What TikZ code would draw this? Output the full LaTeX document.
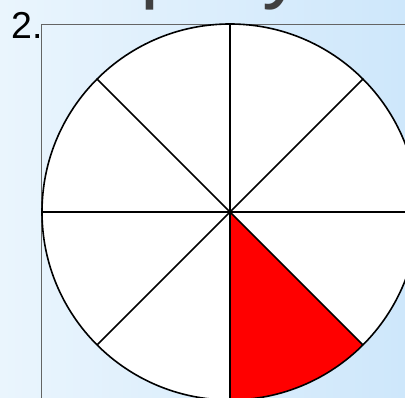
\documentclass[tikz,border=0pt]{standalone}
\usepackage{fontspec}
\setmainfont{Liberation Sans}
\definecolor{bgleft}{RGB}{234,245,253}
\definecolor{bgright}{RGB}{206,231,251}
\definecolor{titlegray}{RGB}{64,64,64}
\definecolor{framegray}{RGB}{100,100,100}
\tikzset{
  spoke/.style={black, line width=1.6pt},
  rim/.style={black, line width=1.6pt},
  frameline/.style={framegray, line width=1pt},
  titletext/.style={text=titlegray, inner sep=0pt, anchor=base west, font=\fontsize{85}{90}\selectfont},
  numtext/.style={text=black, inner sep=0pt, anchor=base west, font=\fontsize{37.5}{40}\selectfont}
}
\begin{document}
\begin{tikzpicture}[x=1pt,y=1pt]
\useasboundingbox (0,0) rectangle (405,398);
\shade[left color=bgleft, right color=bgright] (0,0) rectangle (405,398);
\clip (0,0) rectangle (405,398);
% partial title
\node[titletext] (tp) at (140,405) {p};
\node[titletext] (ty) at (262,405) {y};
% number
\node[numtext] (num) at (11,359) {2.};
% frame
\coordinate (fa) at (41.7,373.3);
\coordinate (fb) at (420,373.3);
\coordinate (fc) at (41.7,-10);
\draw[frameline] (fc) -- (fa) -- (fb);
% pie
\coordinate (O) at (230,186);
\fill[white] (O) circle (188);
\fill[red] (O) -- ++(-90:188) arc (-90:-45:188) -- cycle;
\foreach \a in {0,45,...,315} {
  \draw[spoke] (O) -- ++(\a:188);
}
\draw[rim] (O) circle (188);
\end{tikzpicture}
\end{document}
